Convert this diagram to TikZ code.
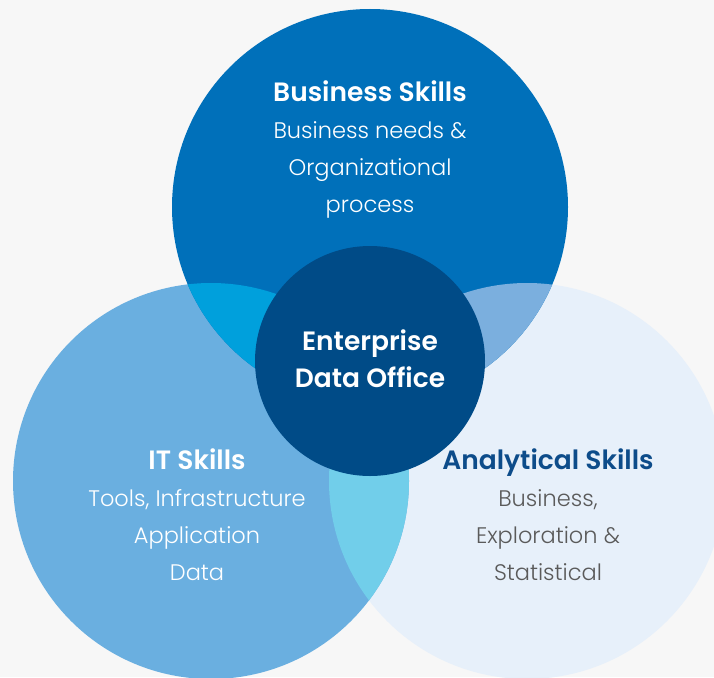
\documentclass[tikz,border=0pt]{standalone}
\usepackage{fontspec}
\setmainfont{Poppins}[UprightFont=* Light, BoldFont=* SemiBold]
\usetikzlibrary{positioning}
\definecolor{bggray}{HTML}{F7F7F7}
\definecolor{busblue}{HTML}{0070BA}
\definecolor{itblue}{HTML}{6AAFE0}
\definecolor{anablue}{HTML}{E7F0FA}
\definecolor{edoblue}{HTML}{004B87}
\definecolor{busit}{HTML}{00A0DC}
\definecolor{busana}{HTML}{7BAFDE}
\definecolor{itana}{HTML}{71CEEA}
\definecolor{anatitle}{HTML}{0D4C8A}
\definecolor{anatext}{HTML}{5A5A5A}

\begin{document}
\begin{tikzpicture}[x=1pt,y=-1pt,node distance=37pt,
  skill/.style={circle, minimum size=396pt, inner sep=0pt},
  txt/.style={inner sep=0pt, text height=16pt, text depth=5pt},
  head/.style={txt, font=\fontsize{26.5}{30}\selectfont\bfseries},
  body/.style={txt, font=\fontsize{22.5}{27}\selectfont}]
 \clip (0,0) rectangle (714,677);
 \fill[bggray] (0,0) rectangle (714,677);

 % the three circles
 \node (ana) [skill, fill=anablue] at (527,481) {};
 \node (it)  [skill, fill=itblue]  at (211,481) {};
 \node (bus) [skill, fill=busblue] at (370,207) {};

 % overlaps
 \begin{scope}
  \clip (bus.center) circle (198pt);
  \fill[busit] (it.center) circle (198pt);
  \fill[busana] (ana.center) circle (198pt);
 \end{scope}
 \begin{scope}
  \clip (it.center) circle (198pt);
  \fill[itana] (ana.center) circle (198pt);
 \end{scope}

 \node (edo) [circle, minimum size=230pt, fill=edoblue] at (370,361) {};

 % Business Skills
 \node (bus1) [head, text=white] at (370,95.5) {Business Skills};
 \node (bus2) [body, text=white, below of=bus1] {Business needs \&};
 \node (bus3) [body, text=white, below of=bus2] {Organizational};
 \node (bus4) [body, text=white, below of=bus3] {process};

 % Enterprise Data Office
 \node (edo1) [head, text=white] at (370,344.5) {Enterprise};
 \node (edo2) [head, text=white, below of=edo1] {Data Office};

 % IT Skills
 \node (it1) [head, text=white] at (197,463.5) {IT Skills};
 \node (it2) [body, text=white, below of=it1] {Tools, Infrastructure};
 \node (it3) [body, text=white, below of=it2] {Application};
 \node (it4) [body, text=white, below of=it3] {Data};

 % Analytical Skills
 \node (ana1) [head, text=anatitle] at (548,463.5) {Analytical Skills};
 \node (ana2) [body, text=anatext, below of=ana1] {Business,};
 \node (ana3) [body, text=anatext, below of=ana2] {Exploration \&};
 \node (ana4) [body, text=anatext, below of=ana3] {Statistical};
\end{tikzpicture}
\end{document}
